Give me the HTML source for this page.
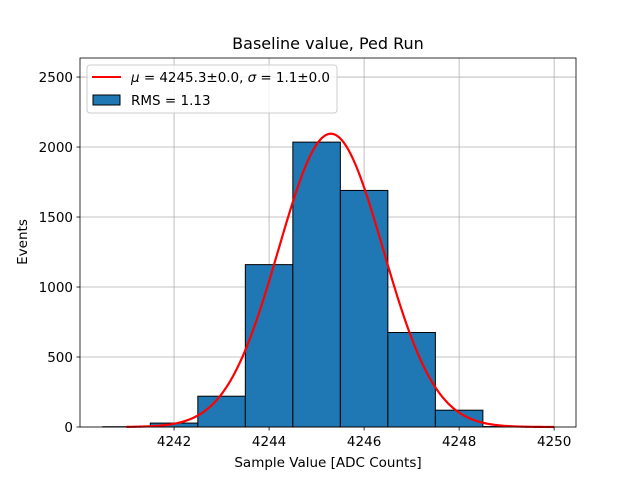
<!DOCTYPE html>
<html><head><meta charset="utf-8"><style>
body{margin:0;background:#fff;}
svg{display:block;font-family:"DejaVu Sans","Liberation Sans",sans-serif;}
</style></head><body>
<svg id="chart" width="640" height="480">
<rect width="640" height="480" fill="#fff"/>
<g id="grid"></g><g id="bars"></g><g id="curve"></g><g id="axes"></g>
</svg>
<script>
const binEdgesStart = [4240.5,4241.5,4242.5,4243.5,4244.5,4245.5,4246.5,4247.5,4248.5];
const binCounts = [2,28,220,1160,2035,1690,675,120,3];
const xTicks = [4242,4244,4246,4248,4250];
const yTicks = [0,500,1000,1500,2000,2500];
const fitMu = [4245.3];
const fitSigma = [1.1];
const fitAmp = [2095];
const fitRange = [4241,4250];

const L=80,R=576,T=58,B=427, xmin=4240.02,xmax=4250.46,ymin=0,ymax=2636;
const X=v=>L+(v-xmin)/(xmax-xmin)*(R-L);
const Y=v=>B-(v-ymin)/(ymax-ymin)*(B-T);
const NS='http://www.w3.org/2000/svg';
function mk(tag,attrs,parent){const e=document.createElementNS(NS,tag);for(const k in attrs)e.setAttribute(k,attrs[k]);parent.appendChild(e);return e;}
const grid=document.getElementById('grid'),bars=document.getElementById('bars'),curve=document.getElementById('curve'),axes=document.getElementById('axes');

xTicks.forEach(t=>{const x=X(t);
 const g=mk('line',{x1:x,x2:x,y1:T,y2:B,stroke:'#b0b0b0','stroke-width':0.8},grid);
 
 
 mk('line',{x1:x,x2:x,y1:B,y2:B+3.5,stroke:'#000','stroke-width':0.8},axes);
 const tx=mk('text',{x:x,y:B+19,'text-anchor':'middle','font-size':13.5},axes);tx.textContent=t;
 
 
});
yTicks.forEach(t=>{const y=Y(t);
 const g=mk('line',{x1:L,x2:R,y1:y,y2:y,stroke:'#b0b0b0','stroke-width':0.8},grid);
 
 
 mk('line',{x1:L-3.5,x2:L,y1:y,y2:y,stroke:'#000','stroke-width':0.8},axes);
 const tx=mk('text',{x:L-7,y:y+5,'text-anchor':'end','font-size':13.5},axes);tx.textContent=t;
 
 
});
binEdgesStart.forEach((s,i)=>{const x0=X(s),x1=X(s+1),y=Y(binCounts[i]);
 const r=mk('rect',{x:x0,y:y,width:x1-x0,height:B-y,fill:'#1f77b4',stroke:'#000','stroke-width':1},bars);
 
 
});
let d='';for(let i=0;i<=300;i++){const v=fitRange[0]+(fitRange[1]-fitRange[0])*i/300;
 const c=fitAmp[0]*Math.exp(-0.5*((v-fitMu[0])/fitSigma[0])**2);d+=(i?'L':'M')+X(v).toFixed(2)+','+Y(c).toFixed(2);}
const p=mk('path',{d:d,fill:'none',stroke:'#ff0000','stroke-width':2.2},curve);


const fr=mk('rect',{x:L,y:T,width:R-L,height:B-T,fill:'none',stroke:'#000','stroke-width':0.8},axes);


</script>
<svg style="position:absolute;left:0;top:0" width="640" height="480">
<text x="328" y="49" text-anchor="middle" font-size="16" font-family="DejaVu Sans,sans-serif">Baseline value, Ped Run</text>
<text x="328" y="467" text-anchor="middle" font-size="13.5" font-family="DejaVu Sans,sans-serif">Sample Value [ADC Counts]</text>
<text transform="translate(27,242) rotate(-90)" text-anchor="middle" font-size="13.5" font-family="DejaVu Sans,sans-serif">Events</text>
<g font-family="DejaVu Sans,sans-serif" font-size="13.5">
<rect x="87" y="65" width="250" height="48" rx="3" fill="#fff" fill-opacity="0.8" stroke="#ccc"/>
<line x1="92" y1="77" x2="121" y2="77" stroke="#ff0000" stroke-width="2"/>
<text x="131" y="82" textLength="199" lengthAdjust="spacing"><tspan font-style="italic">μ</tspan> = 4245.3±0.0, <tspan font-style="italic">σ</tspan> = 1.1±0.0</text>
<rect x="93" y="95" width="27" height="10" fill="#1f77b4" stroke="#000"/>
<text x="131" y="105">RMS = 1.13</text>
</g>
</svg>
</body></html>
